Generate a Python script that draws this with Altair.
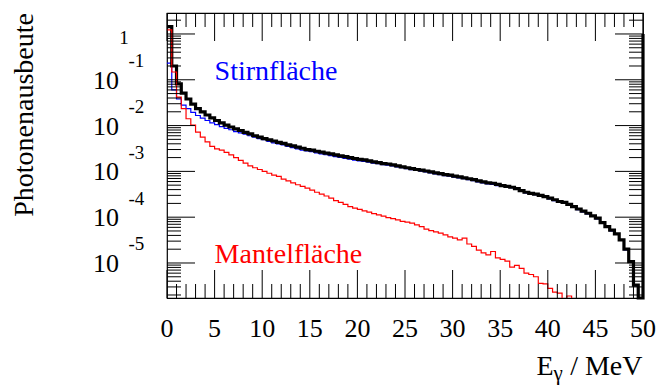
import altair as alt
import pandas as pd

# ---------------- data ----------------
bin_width = 0.5          # MeV
x_max = 50.0

# total photon yield (black, thick)
black_vals = [
    1.45, 0.20, 0.081, 0.051, 0.038, 0.0295, 0.0234, 0.0200, 0.0170, 0.0148,
    0.0129, 0.0115, 0.0102, 0.0093, 0.0085, 0.0078, 0.0071, 0.0066, 0.0060, 0.0056,
    0.0052, 0.0049, 0.0046, 0.0043, 0.0041, 0.0038, 0.0036, 0.0034, 0.0032, 0.0030,
    0.0029, 0.00275, 0.00263, 0.00251, 0.00240, 0.00229, 0.00219, 0.00209, 0.00200, 0.00191,
    0.00182, 0.00178, 0.00170, 0.00162, 0.00155, 0.00148, 0.00145, 0.00138, 0.00132, 0.00126,
    0.00120, 0.00115, 0.00110, 0.00107, 0.00102, 0.00098, 0.00093, 0.00089, 0.00085, 0.00083,
    0.00079, 0.00076, 0.00072, 0.00069, 0.00066, 0.00062, 0.00059, 0.00056, 0.00055, 0.00052,
    0.00049, 0.00047, 0.00045, 0.00042, 0.00038, 0.00035, 0.00033, 0.00032, 0.00030, 0.00028,
    0.00026, 0.00024, 0.00022, 0.00021, 0.00019, 0.00017, 0.000151, 0.000135, 0.000122, 0.000107,
    0.000095, 0.000076, 0.000062, 0.000052, 0.000043, 0.000032, 0.000020, 0.0000107, 0.0000033, 0.0,
]

# Stirnfläche (blue)
blue_vals = [
    0.23, 0.060, 0.038, 0.028, 0.0234, 0.0195, 0.0166, 0.0145, 0.0129, 0.0115,
    0.0105, 0.0095, 0.0087, 0.0081, 0.0074, 0.0069, 0.0065, 0.0060, 0.0056, 0.0052,
    0.0049, 0.0045, 0.0042, 0.0040, 0.0038, 0.0035, 0.0033, 0.0031, 0.0029, 0.0028,
    0.0027, 0.00253, 0.00242, 0.00231, 0.00221, 0.00211, 0.00201, 0.00192, 0.00184, 0.00176,
    0.00170, 0.00166, 0.00159, 0.00152, 0.00147, 0.00141, 0.00137, 0.00131, 0.00125, 0.00120,
    0.00114, 0.00109, 0.00105, 0.00101, 0.00097, 0.00093, 0.00088, 0.00085, 0.00081, 0.00079,
    0.00075, 0.00072, 0.00069, 0.00066, 0.00063, 0.00059, 0.00056, 0.00053, 0.00052, 0.00049,
    0.00047, 0.00046, 0.00044, 0.00041, 0.00037, 0.00034, 0.00032, 0.00031, 0.00029, 0.00027,
    0.00025, 0.00023, 0.00021, 0.00020, 0.000184, 0.000165, 0.000146, 0.000131, 0.000118, 0.000104,
    0.000092, 0.000074, 0.000060, 0.000050, 0.000042, 0.000031, 0.0000194, 0.0000104, 0.0000032, 0.0,
]

# Mantelfläche (red)
red_vals = [
    1.23, 0.148, 0.0417, 0.0234, 0.0141, 0.0102, 0.0072, 0.0056, 0.0044, 0.0035,
    0.0031, 0.0029, 0.0026, 0.0023, 0.0020, 0.00174, 0.00151, 0.00132, 0.00120, 0.00110,
    0.00100, 0.00091, 0.00083, 0.00078, 0.00068, 0.00062, 0.00056, 0.00051, 0.00047, 0.00043,
    0.00039, 0.00035, 0.00032, 0.00029, 0.00026, 0.00023, 0.00021, 0.00019, 0.00017, 0.000158,
    0.000148, 0.000138, 0.000129, 0.000120, 0.000112, 0.000105, 0.000098, 0.000093, 0.000087, 0.000081,
    0.000078, 0.000074, 0.000068, 0.000062, 0.000055, 0.000051, 0.000048, 0.000045, 0.000041, 0.000037,
    0.000035, 0.000032, 0.000035, 0.000026, 0.000023, 0.000019, 0.0000166, 0.0000151, 0.0000178, 0.0000129,
    0.0000120, 0.0000110, 0.0000081, 0.0000089, 0.0000076, 0.0000060, 0.0000056, 0.0000050, 0.0000036, 0.0000035,
    0.0000028, 0.0000023, 0.0000022, 0.0, 0.0000019, 0.0, 0.0, 0.0, 0.0, 0.0,
    0.0, 0.0, 0.0, 0.0, 0.0, 0.0, 0.0, 0.0, 0.0, 0.0,
]

# level reached by the closing vertical edge of the histograms at x = 50
black_edge = 1.0
blue_edge = 1.0
red_edge = 0.0

y_min, y_max = 1.72e-6, 2.87
x_major_ticks = [0, 5, 10, 15, 20, 25, 30, 35, 40, 45, 50]
x_minor_ticks = [v for v in range(1, 50) if v % 5 != 0]
y_major_ticks = [1e-5, 1e-4, 1e-3, 1e-2, 1e-1, 1.0]
y_major_exps = ["-5", "-4", "-3", "-2", "-1"]
y_minor_ticks = [m * 10.0 ** e for e in range(-6, 1) for m in range(2, 10)
                 if y_min <= m * 10.0 ** e <= y_max]

labels_text = ["Stirnfläche", "Mantelfläche"]
labels_x = [5.0, 5.0]
labels_y = [1e-1, 1e-5]
labels_color = ["#0000ff", "#ff0000"]

y_title = "Photonenausbeute"

# ---------------- layout / style ----------------
W, H = 476, 285
FONT = "Liberation Serif"
MAJ, MIN = 28, 14

xs = alt.Scale(domain=[0, x_max], nice=False, zero=False)
ys = alt.Scale(type="log", domain=[y_min, y_max], nice=False)

edges = [i * bin_width for i in range(len(black_vals))] + [x_max]


def series_frame(vals, last, floor_value):
    yv = [v if v > 0 else floor_value for v in list(vals) + [last]]
    return pd.DataFrame({"x": edges, "y": yv})


def hist(vals, last, color, sw, floor_value, clip):
    return alt.Chart(series_frame(vals, last, floor_value)).mark_line(
        interpolate="step-after", clip=clip, color=color, strokeWidth=sw,
        strokeJoin="miter", strokeCap="butt"
    ).encode(
        x=alt.X("x:Q", scale=xs, axis=None),
        y=alt.Y("y:Q", scale=ys, axis=None),
    )


# empty bins of the total / front-face spectra fall to the frame bottom (as ROOT draws them);
# the lateral-face spectrum's empty bins are simply not drawn
blue_line = hist(blue_vals, blue_edge, "#0000ff", 1.2, y_min, False)
black_line = hist(black_vals, black_edge, "#000000", 3.2, y_min, False)
red_line = hist(red_vals, red_edge, "#ff0000", 1.2, 1e-9, True)

# ---- ticks inside the frame on all four sides ----
def xticks(vals, length):
    d = pd.DataFrame({"v": vals})
    bottom = alt.Chart(d).mark_rule(color="black", strokeWidth=1).encode(
        x=alt.X("v:Q", scale=xs, axis=None), y=alt.value(H), y2=alt.value(H - length))
    top = alt.Chart(d).mark_rule(color="black", strokeWidth=1).encode(
        x=alt.X("v:Q", scale=xs, axis=None), y=alt.value(0), y2=alt.value(length))
    return [bottom, top]


def yticks(vals, length):
    d = pd.DataFrame({"v": vals})
    left = alt.Chart(d).mark_rule(color="black", strokeWidth=1).encode(
        y=alt.Y("v:Q", scale=ys, axis=None), x=alt.value(0), x2=alt.value(length))
    right = alt.Chart(d).mark_rule(color="black", strokeWidth=1).encode(
        y=alt.Y("v:Q", scale=ys, axis=None), x=alt.value(W - length), x2=alt.value(W))
    return [left, right]


tick_layers = (xticks(x_major_ticks, MAJ) + xticks(x_minor_ticks, MIN)
               + yticks(y_major_ticks, MAJ) + yticks(y_minor_ticks, MIN))

# ---- x tick labels ----
xlab_df = pd.DataFrame({"v": x_major_ticks, "t": [str(v) for v in x_major_ticks]})
xlab = alt.Chart(xlab_df).mark_text(
    font=FONT, fontSize=26, align="center", baseline="alphabetic", color="black"
).encode(x=alt.X("v:Q", scale=xs, axis=None), y=alt.value(H + 39), text="t:N")

# ---- y tick labels: 10 with superscript exponent, "1" for 10^0 ----
dec_df = pd.DataFrame({"v": y_major_ticks[:-1], "base": ["10"] * 5, "exp": y_major_exps})
base_txt = alt.Chart(dec_df).mark_text(
    font=FONT, fontSize=26, align="right", baseline="alphabetic", dy=9, color="black"
).encode(y=alt.Y("v:Q", scale=ys, axis=None), x=alt.value(-48), text="base:N")
exp_txt = alt.Chart(dec_df).mark_text(
    font=FONT, fontSize=19, align="left", baseline="alphabetic", dy=-12.6, color="black"
).encode(y=alt.Y("v:Q", scale=ys, axis=None), x=alt.value(-38.5), text="exp:N")
one_txt = alt.Chart(pd.DataFrame({"v": [1.0], "t": ["1"]})).mark_text(
    font=FONT, fontSize=19, align="right", baseline="alphabetic", dy=10.3, color="black"
).encode(y=alt.Y("v:Q", scale=ys, axis=None), x=alt.value(-38.3), text="t:N")

# ---- axis titles ----
ytitle = alt.Chart(pd.DataFrame({"t": [y_title]})).mark_text(
    font=FONT, fontSize=28, angle=270, align="right", baseline="alphabetic", color="black"
).encode(x=alt.value(-134), y=alt.value(0), text="t:N")

xt_E = alt.Chart(pd.DataFrame({"t": ["E"]})).mark_text(
    font=FONT, fontSize=28, align="right", baseline="alphabetic", color="black"
).encode(x=alt.value(386.5), y=alt.value(362), text="t:N")
xt_g = alt.Chart(pd.DataFrame({"t": ["γ"]})).mark_text(
    font=FONT, fontSize=21, align="left", baseline="alphabetic", color="black"
).encode(x=alt.value(386.5), y=alt.value(367), text="t:N")
xt_u = alt.Chart(pd.DataFrame({"t": ["/ MeV"]})).mark_text(
    font=FONT, fontSize=28, align="right", baseline="alphabetic", color="black"
).encode(x=alt.value(475.5), y=alt.value(362), text="t:N")

# ---- in-plot labels ----
lab_df = pd.DataFrame({"x": labels_x, "y": labels_y, "t": labels_text, "c": labels_color})
labels = alt.Chart(lab_df).mark_text(
    font=FONT, fontSize=28, align="left", baseline="alphabetic"
).encode(
    x=alt.X("x:Q", scale=xs, axis=None), y=alt.Y("y:Q", scale=ys, axis=None),
    text="t:N", color=alt.Color("c:N", scale=None),
)

chart = alt.layer(
    blue_line, black_line, red_line, *tick_layers, xlab,
    base_txt, exp_txt, one_txt, ytitle, xt_E, xt_g, xt_u, labels,
).properties(
    width=W, height=H,
    padding={"left": 167, "top": 13, "right": 14, "bottom": 87},
    autosize=alt.AutoSizeParams(type="none"),
    background="white",
).configure_view(stroke="black", strokeWidth=1.2)

chart.save("out.html", embed_options={"renderer": "svg", "actions": False})
